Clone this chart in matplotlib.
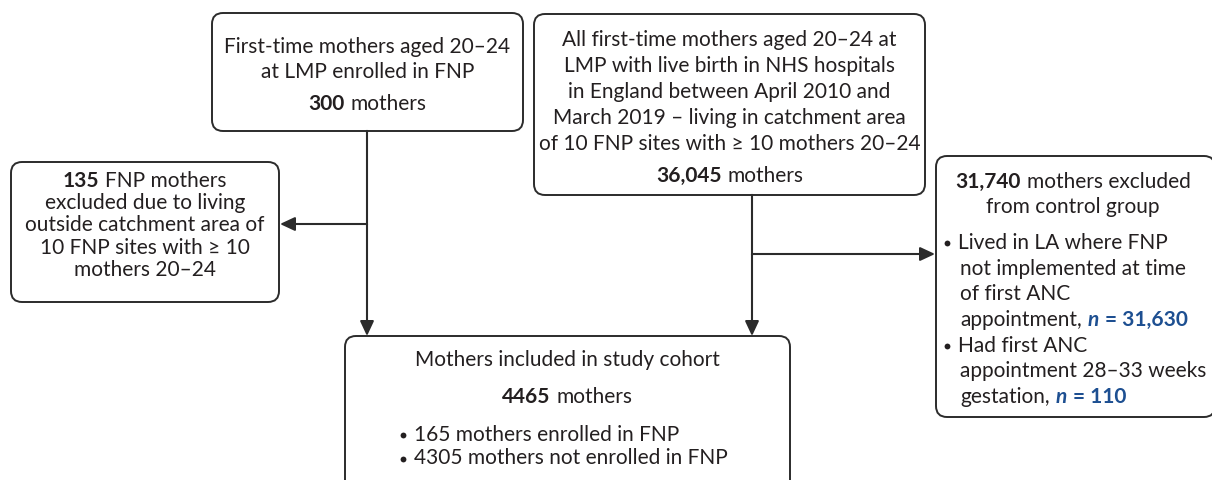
import matplotlib.pyplot as plt
from matplotlib.patches import FancyBboxPatch

# ---- chart content ----
fnp_lines = ["First-time mothers aged 20–24", "at LMP enrolled in FNP"]
fnp_total = "300"

all_lines = ["All first-time mothers aged 20–24 at",
             "LMP with live birth in NHS hospitals",
             "in England between April 2010 and",
             "March 2019 – living in catchment area",
             "of 10 FNP sites with ≥ 10 mothers 20–24"]
all_total = "36,045"

fnp_excl_n = "135"
fnp_excl_lines = ["excluded due to living", "outside catchment area of",
                  "10 FNP sites with ≥ 10", "mothers 20–24"]

ctrl_excl_n = "31,740"
ctrl_excl_reasons = [
    (["Lived in LA where FNP", "not implemented at time", "of first ANC", "appointment,"], "31,630"),
    (["Had first ANC", "appointment 28–33 weeks", "gestation,"], "110"),
]

cohort_total = "4465"
cohort_split = ["165 mothers enrolled in FNP", "4305 mothers not enrolled in FNP"]

TXT = "#231f20"
EDGE = "#2b2b2b"
BLUE = "#1d4f91"
FS = 15

plt.rcParams['font.family'] = ['Lato', 'DejaVu Sans']

fig = plt.figure(figsize=(12.12, 4.81), dpi=100)
ax = fig.add_axes([0, 0, 1, 1])
ax.set_xlim(0, 1212)
ax.set_ylim(481, 0)
ax.axis('off')
renderer = fig.canvas.get_renderer()


def box(x0, y0, x1, y1):
    p = FancyBboxPatch((x0, y0), x1 - x0, y1 - y0,
                       boxstyle="round,pad=0,rounding_size=11",
                       fc="white", ec=EDGE, lw=1.4, clip_on=True)
    ax.add_patch(p)


def width_of(s, **kw):
    t = ax.text(0, 0, s, fontsize=FS, **kw)
    w = t.get_window_extent(renderer).width
    t.remove()
    return w


SPACE = width_of("x x") - width_of("xx") + 0.5


def line(x, y, runs, ha="center"):
    """runs: list of (text, kwargs); joined by a single space"""
    texts = []
    for s, kw in runs:
        kw = dict(kw)
        kw.setdefault("color", TXT)
        texts.append(ax.text(0, y, s, fontsize=FS, va="center", ha="left", **kw))
    widths = [t.get_window_extent(renderer).width for t in texts]
    total = sum(widths) + SPACE * (len(texts) - 1)
    start = x - total / 2 if ha == "center" else x
    for t, w in zip(texts, widths):
        t.set_x(start)
        start += w + SPACE


def bullet(x, y):
    ax.plot(x, y + 1, "o", ms=4.2, color=TXT, mew=0)


def arrow(x0, y0, x1, y1):
    ax.annotate("", xy=(x1, y1), xytext=(x0, y0),
                arrowprops=dict(arrowstyle="-|>,head_length=0.9,head_width=0.42",
                                color=EDGE, lw=1.5, shrinkA=0, shrinkB=0))


REG = {}
BOLD = {"weight": "bold"}
NI = {"weight": "bold", "style": "italic", "color": BLUE}
NB = {"weight": "bold", "color": BLUE}

# boxes
box(212, 14, 523, 132)
box(534, 15, 925, 196)
box(11, 163, 279, 303)
box(936, 157, 1215, 418)
box(345, 337, 790, 500)

# connectors
ax.plot([367, 367], [132, 225], color=EDGE, lw=1.5)
arrow(367, 225, 280, 225)
arrow(367, 225, 367, 337)
ax.plot([752, 752], [196, 255], color=EDGE, lw=1.5)
arrow(752, 255, 935, 255)
arrow(752, 255, 752, 337)

# FNP box
cx = 367.5
for s, y in zip(fnp_lines, [47, 72]):
    line(cx, y, [(s, REG)])
line(cx, 104, [(fnp_total, BOLD), ("mothers", REG)])

# all mothers box
cx = 729.5
for i, s in enumerate(all_lines):
    line(cx, 40 + i * 25.9, [(s, REG)])
line(cx, 176, [(all_total, BOLD), ("mothers", REG)])

# FNP exclusions
cx = 145
line(cx, 181, [(fnp_excl_n, BOLD), ("FNP mothers", REG)])
for i, s in enumerate(fnp_excl_lines):
    line(cx, 203 + i * 22.3, [(s, REG)])

# control exclusions
cx = 1073
line(cx, 182, [(ctrl_excl_n, BOLD), ("mothers excluded", REG)])
line(cx, 207, [("from control group", REG)])
y = 243
for parts, n in ctrl_excl_reasons:
    bullet(947, y)
    for j, s in enumerate(parts):
        x = 958 if j == 0 else 960
        if j == len(parts) - 1:
            line(x, y, [(s, REG), ("n", NI), ("= " + n, NB)], ha="left")
        else:
            line(x, y, [(s, REG)], ha="left")
        y += 25.7

# cohort box
cx = 567
line(cx, 360, [("Mothers included in study cohort", REG)])
line(cx, 397, [(cohort_total, BOLD), ("mothers", REG)])
for i, s in enumerate(cohort_split):
    yy = 435 + i * 23.5
    bullet(403, yy)
    line(414, yy, [(s, REG)], ha="left")

fig.savefig("out.png", dpi=100)
